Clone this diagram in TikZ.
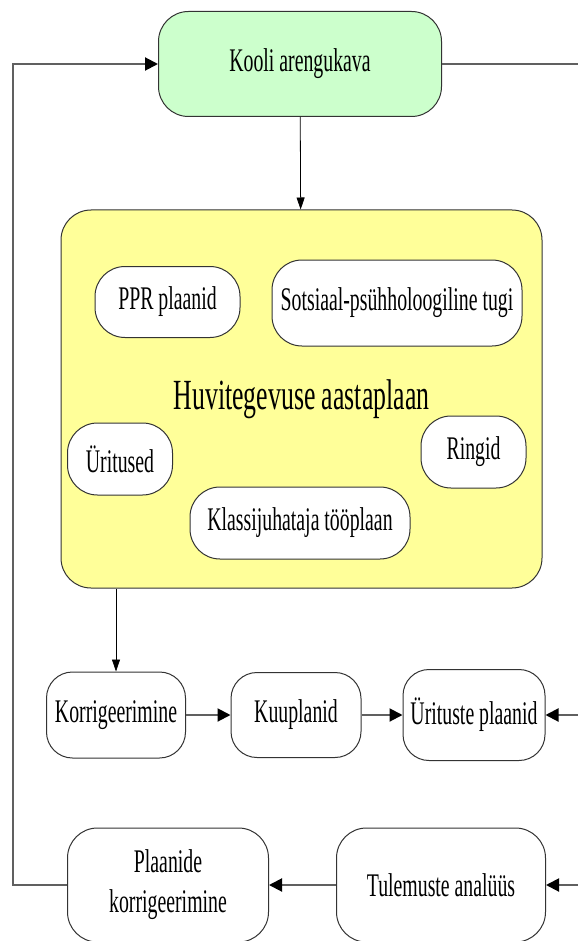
\documentclass[tikz,border=0pt]{standalone}
\usepackage{fontspec}
\setmainfont[FakeStretch=0.6]{Liberation Serif}
\usetikzlibrary{arrows.meta}
\definecolor{verdeclaro}{HTML}{CCFFCC}
\definecolor{amarillo}{HTML}{FFFF99}
\definecolor{gris}{HTML}{606060}
\tikzstyle{rectverde} = [rectangle, rounded corners=30pt, minimum width=283pt, minimum height=105pt, text centered, draw=black!80, line width=1pt, fill=verdeclaro, font=\fontsize{33}{35}\selectfont]
\tikzstyle{rectamarillo} = [rectangle, rounded corners=30pt, minimum width=481pt, minimum height=378pt, text centered, draw=black!80, line width=1pt, fill=amarillo, font=\fontsize{43}{45}\selectfont]
\tikzstyle{rectblanco} = [rectangle, rounded corners=30pt, text centered, align=center, draw=black!80, line width=1pt, fill=white, font=\fontsize{33}{40}\selectfont]
\tikzstyle{arrow} = [gris, line width=2pt, -{Triangle[length=13pt,width=13pt,color=black]}]
\tikzstyle{flecha} = [black, line width=0.8pt, -{Triangle[length=12pt,width=8pt]}]
\tikzstyle{linea} = [gris, line width=2pt]

\begin{document}
\begin{tikzpicture}[x=1pt, y=-1pt]
    	\clip (0,0) rectangle (578,941);
    	% Cuadros
    	\node (arengukava) [rectverde] at (300,64) {Kooli arengukava};
    	\node (aastaplaan) [rectamarillo] at (301.5,399) {Huvitegevuse aastaplaan};
    	\node (ppr) [rectblanco, minimum width=145pt, minimum height=71pt] at (167.5,302) {PPR plaanid};
    	\node (tugi) [rectblanco, minimum width=250pt, minimum height=86pt] at (397,303) {Sotsiaal-psühholoogiline tugi};
    	\node (uritused) [rectblanco, minimum width=105pt, minimum height=72pt] at (120,459) {Üritused};
    	\node (ringid) [rectblanco, minimum width=105pt, minimum height=72pt] at (473.5,452) {Ringid};
    	\node (klassijuh) [rectblanco, minimum width=220pt, minimum height=72pt] at (300,523) {Klassijuhataja tööplaan};
    	\node (korrig) [rectblanco, rounded corners=26pt, minimum width=139pt, minimum height=86pt] at (116,715) {Korrigeerimine};
    	\node (kuuplanid) [rectblanco, rounded corners=26pt, minimum width=130pt, minimum height=85pt] at (296,715) {Kuuplanid};
    	\node (uritplaanid) [rectblanco, rounded corners=26pt, minimum width=142pt, minimum height=91pt] at (474,715) {Ürituste plaanid};
    	\node (plaanidekorr) [rectblanco, rounded corners=30pt, minimum width=201pt, minimum height=114pt] at (168,885) {Plaanide\\korrigeerimine};
    	\node (tulemused) [rectblanco, rounded corners=30pt, minimum width=209pt, minimum height=114pt] at (441,885) {Tulemuste analüüs};
    	\coordinate (vasak) at (13,885);
    	\coordinate (parem1) at (578,64);
    	\coordinate (parem2) at (578,715);
    	\coordinate (parem3) at (578,885);
    	% Flechas
        \draw[flecha] (arengukava) -- (aastaplaan);
        \draw[flecha] (korrig.north |- aastaplaan.south) -- (korrig.north);
        \draw[arrow] (korrig) -- (kuuplanid);
        \draw[arrow] (kuuplanid) -- (uritplaanid);
        \draw[arrow] (parem2) -- (uritplaanid);
        \draw[arrow] (parem3) -- (tulemused);
        \draw[arrow] (tulemused) -- (plaanidekorr);
        \draw[arrow] (plaanidekorr.west) -- (vasak) |- (arengukava.west);
        \draw[linea] (arengukava.east) -- (parem1);
    
    \end{tikzpicture}
\end{document}
